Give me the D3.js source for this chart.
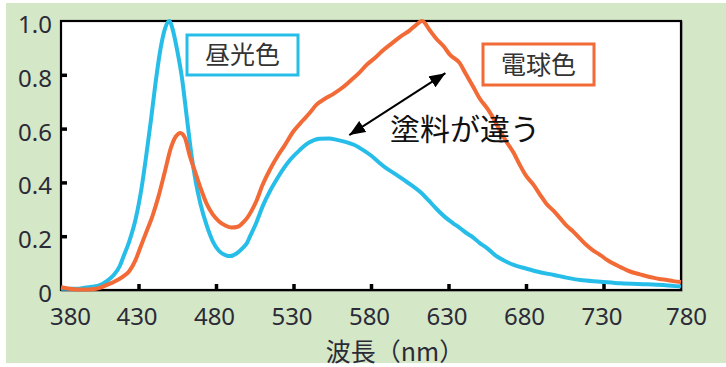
<!DOCTYPE html>
<html><head><meta charset="utf-8">
<script src="https://cdn.jsdelivr.net/npm/d3@7"></script>
<style>body{margin:0;background:#fff}svg{display:block}</style>
</head><body><svg id="c" width="726" height="367"></svg>
<script>
// ---- data ----
const wlDaylight = [380,390,395,400,405,410,414,418,420,424,428,432,435,438,441,444,447,450,452,455,458,461,464,467,470,474,478,482,486,489,493,497,500,502,506,510,515,519,524,528,534,540,547,553,558,564,569,575,580,585,590,596,601,606,612,617,622,628,633,637,642,646,650,655,660,664,668,672,680,689,698,706,715,728,741,758,770,780];
const valDaylight = [0.005,0.005,0.008,0.012,0.018,0.035,0.056,0.09,0.12,0.18,0.26,0.38,0.50,0.63,0.77,0.89,0.97,1.0,0.97,0.89,0.79,0.65,0.51,0.40,0.32,0.24,0.18,0.145,0.13,0.126,0.135,0.155,0.175,0.20,0.25,0.31,0.37,0.41,0.455,0.485,0.52,0.548,0.562,0.563,0.558,0.55,0.54,0.52,0.50,0.475,0.452,0.43,0.41,0.39,0.363,0.334,0.303,0.27,0.248,0.232,0.21,0.195,0.175,0.155,0.13,0.115,0.103,0.093,0.08,0.066,0.056,0.046,0.037,0.031,0.025,0.021,0.018,0.013];
const wlBulb = [380,385,390,395,400,405,410,414,420,424,428,431,435,439,443,447,451,454,457,460,463,466.5,470,474,478,482,486,490,494,497,500,503,506,510,515,520,524,530,536,540,545,550,556,561,566,572,577,583,588,593,599,605,609,613,618,622,627,631,637,641,646,650,655,659,663,667.5,672,676,680,685,689,693,698,702,706,710.5,715,719,723,728,732,736,741,745,749,753.5,758,762,766,771,775,780];
const valBulb = [0.01,0.005,0.002,0.002,0.003,0.008,0.02,0.03,0.05,0.07,0.11,0.155,0.215,0.275,0.35,0.44,0.53,0.57,0.584,0.565,0.50,0.44,0.38,0.32,0.28,0.255,0.24,0.232,0.235,0.248,0.267,0.295,0.33,0.39,0.45,0.50,0.535,0.59,0.63,0.655,0.69,0.71,0.73,0.75,0.774,0.805,0.836,0.865,0.892,0.915,0.942,0.965,0.985,1.0,0.965,0.935,0.905,0.874,0.845,0.805,0.755,0.713,0.675,0.638,0.595,0.55,0.51,0.465,0.425,0.39,0.355,0.322,0.293,0.267,0.24,0.217,0.19,0.167,0.148,0.13,0.113,0.099,0.085,0.074,0.065,0.058,0.051,0.046,0.041,0.037,0.033,0.03];
const xTickValues = [380,430,480,530,580,630,680,730,780];
const yTickValues = [0,0.2,0.4,0.6,0.8,1.0];
const yTickLabels = ["0","0.2","0.4","0.6","0.8","1.0"];
const seriesNames = ["昼光色","電球色"];
const xTitle = "波長（nm）";
const noteText = "塗料が違う";
const noteFrom = [566,0.576];   // arrow end near daylight curve (nm, value)
const noteTo = [628,0.806];     // arrow end near bulb curve

// ---- layout ----
const colBlue = "#27bde9", colOrange = "#f26a36";
const L = 61, R = 681, T = 21, B = 290;
const svg = d3.select("#c");
const x = d3.scaleLinear().domain([380,780]).range([L,R]);
const y = d3.scaleLinear().domain([0,1]).range([B,T]);

svg.append("rect").attr("x",6).attr("y",3).attr("width",720).attr("height",360).attr("fill","#d4e7c6");
svg.append("rect").attr("x",L+1).attr("y",T+1).attr("width",R-L).attr("height",B-T).attr("fill","none").attr("stroke","#9a9a9a").attr("stroke-width",1.5);
svg.append("rect").attr("x",L).attr("y",T).attr("width",R-L).attr("height",B-T).attr("fill","#fff").attr("stroke","#000").attr("stroke-width",2.2);

const numFont = "'Noto Sans','DejaVu Sans',sans-serif";
const jpFont = "'Noto Sans CJK JP','Noto Sans CJK SC',sans-serif";
const yAxis = d3.axisLeft(y).tickValues(yTickValues).tickSize(-6).tickPadding(9).tickFormat((d,i)=>yTickLabels[i]);
const gy = svg.append("g").attr("transform",`translate(${L},0)`).call(yAxis);
gy.select(".domain").remove();
gy.selectAll(".tick line").attr("stroke","#000").attr("stroke-width",3.5).filter(d=>d===0||d===1).remove();
gy.selectAll(".tick text").attr("font-family",numFont).attr("font-size",24).attr("fill","#2b2b38").attr("dy","0.48em");

const xAxis = d3.axisBottom(x).tickValues(xTickValues).tickSize(-6).tickPadding(18).tickFormat(d3.format("d"));
const gx = svg.append("g").attr("transform",`translate(0,${B})`).call(xAxis);
gx.select(".domain").remove();
gx.selectAll(".tick line").attr("stroke","#000").attr("stroke-width",3.5).filter(d=>d===380||d===780).remove();
gx.selectAll(".tick text").attr("font-family",numFont).attr("font-size",24).attr("fill","#2b2b38")
  .attr("dx",d=>d===380?9:(d===780?5:-2));

svg.append("text").attr("x",x(580)+24).attr("y",361).attr("text-anchor","middle")
  .attr("font-family",jpFont).attr("font-size",25).attr("fill","#2b2b38").text(xTitle);

// curves
const line = d3.line().x(d=>x(d[0])).y(d=>y(d[1])).curve(d3.curveMonotoneX);
svg.append("path").datum(wlDaylight.map((w,i)=>[w,valDaylight[i]])).attr("d",line)
  .attr("fill","none").attr("stroke",colBlue).attr("stroke-width",4).attr("stroke-linejoin","round");
svg.append("path").datum(wlBulb.map((w,i)=>[w,valBulb[i]])).attr("d",line)
  .attr("fill","none").attr("stroke",colOrange).attr("stroke-width",4).attr("stroke-linejoin","round");

// legend boxes
function box(x0,y0,w,h,col,label){
  svg.append("rect").attr("x",x0).attr("y",y0).attr("width",w).attr("height",h)
    .attr("fill","#fff").attr("stroke",col).attr("stroke-width",3);
  svg.append("text").attr("x",x0+w/2).attr("y",y0+h/2).attr("dy","0.36em").attr("text-anchor","middle")
    .attr("font-family",jpFont).attr("font-size",25).attr("fill","#333").text(label);
}
box(187,35,111,40,colBlue,seriesNames[0]);
box(483,44,111,41,colOrange,seriesNames[1]);

// annotation arrow
const defs = svg.append("defs");
defs.append("marker").attr("id","ah").attr("viewBox","-16 -7 17 14").attr("refX",0).attr("refY",0)
  .attr("markerWidth",17).attr("markerHeight",14).attr("markerUnits","userSpaceOnUse")
  .attr("orient","auto-start-reverse")
  .append("path").attr("d","M0,0 L-16,-6.5 L-16,6.5 Z").attr("fill","#000");
svg.append("line").attr("x1",x(noteFrom[0])).attr("y1",y(noteFrom[1])).attr("x2",x(noteTo[0])).attr("y2",y(noteTo[1]))
  .attr("stroke","#000").attr("stroke-width",2).attr("marker-start","url(#ah)").attr("marker-end","url(#ah)");
svg.append("text").attr("x",390).attr("y",129).attr("dy","0.36em")
  .attr("font-family",jpFont).attr("font-size",30).attr("fill","#111").text(noteText);
</script></body></html>
